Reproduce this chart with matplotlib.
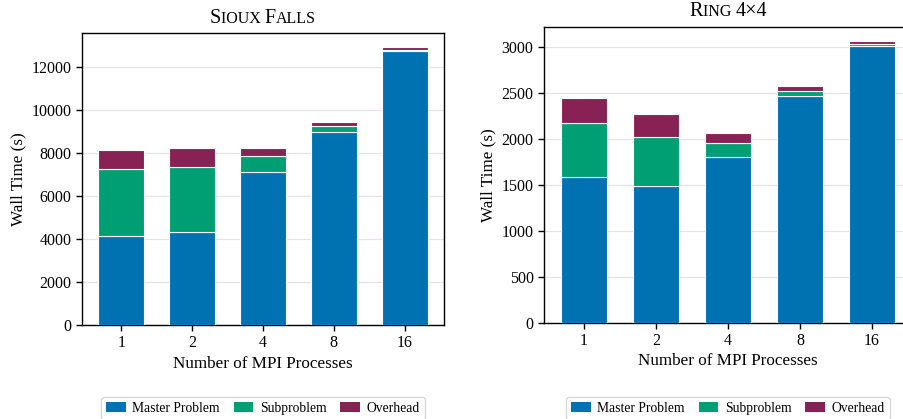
import matplotlib
matplotlib.use('Agg')
import numpy as np
import matplotlib.pyplot as plt
from matplotlib.patches import Patch
from matplotlib.offsetbox import TextArea, HPacker, AnchoredOffsetbox

plt.rcParams['font.family'] = ['Liberation Serif', 'DejaVu Serif']
plt.rcParams['axes.linewidth'] = 1.0

# MPI process counts on the x axis
procs = ['1', '2', '4', '8', '16']

# Sioux Falls timings (s)
sf_master = [4140, 4320, 7140, 8975, 12735]
sf_sub = [3140, 3035, 730, 265, 80]
sf_overhead = [840, 870, 385, 200, 125]

# Ring 4x4 timings (s)
ring_master = [1587, 1489, 1809, 2470, 3008]
ring_sub = [589, 538, 149, 55, 29]
ring_overhead = [272, 250, 109, 47, 32]

labels = ['Master Problem', 'Subproblem', 'Overhead']
colors = ['#0072B2', '#009E73', '#882255']


def small_caps_title(ax, parts, y_off):
    # parts: list of (text, fontsize) pieces packed on a common baseline
    boxes = [TextArea(t, textprops=dict(fontsize=fs, color='black')) for t, fs in parts]
    pack = HPacker(children=boxes, align='baseline', pad=0, sep=0)
    anchored = AnchoredOffsetbox(loc='lower center', child=pack, frameon=False, pad=0,
                                 borderpad=0, bbox_to_anchor=(0.5, 1.0 + y_off),
                                 bbox_transform=ax.transAxes)
    ax.add_artist(anchored)


def stacked(ax, master, sub, overhead):
    x = np.arange(len(procs))
    bottom = np.zeros(len(procs))
    for vals, col, lab in zip([master, sub, overhead], colors, labels):
        ax.bar(x, vals, width=0.65, bottom=bottom, color=col, edgecolor='white',
               linewidth=0.8, label=lab, zorder=3)
        bottom = bottom + np.array(vals)
    ax.set_xticks(x)
    ax.set_xticklabels(procs)
    ax.yaxis.grid(True, color='#e3e3e3', linewidth=0.9, zorder=0)
    ax.set_axisbelow(True)
    ax.tick_params(axis='both', labelsize=11.5, direction='out', length=4, width=1)
    ax.set_xlabel('Number of MPI Processes', fontsize=12.3, labelpad=3)
    ax.set_ylabel('Wall Time (s)', fontsize=12.3, labelpad=4)
    handles = [Patch(facecolor=c, edgecolor='none', label=l) for c, l in zip(colors, labels)]
    return handles


W, H = 904, 419
fig = plt.figure(figsize=(W / 100, H / 100), dpi=100)
ax1 = fig.add_axes([82 / W, (H - 325) / H, 362 / W, 292 / H])
ax2 = fig.add_axes([544 / W, (H - 322.7) / H, 368 / W, 296 / H])

h1 = stacked(ax1, sf_master, sf_sub, sf_overhead)
h2 = stacked(ax2, ring_master, ring_sub, ring_overhead)

ax1.set_yticks(np.arange(0, 12001, 2000))
ax2.set_yticks(np.arange(0, 3001, 500))

small_caps_title(ax1, [('S', 14.5), ('IOUX ', 11.5), ('F', 14.5), ('ALLS', 11.5)], 0.018)
small_caps_title(ax2, [('R', 14.5), ('ING ', 11.5), ('4×4', 14.5)], 0.02)

for ax, handles in [(ax1, h1), (ax2, h2)]:
    pos = ax.get_position()
    fig.legend(handles=handles, loc='upper center',
               bbox_to_anchor=(pos.x0 + pos.width / 2, 1 - 397 / H),
               ncol=3, fontsize=9.8, frameon=True, edgecolor='#cccccc',
               handlelength=1.45, handleheight=0.7, handletextpad=0.5,
               columnspacing=1.0, borderpad=0.35, borderaxespad=0, fancybox=True)

fig.savefig('out.png', dpi=100)
